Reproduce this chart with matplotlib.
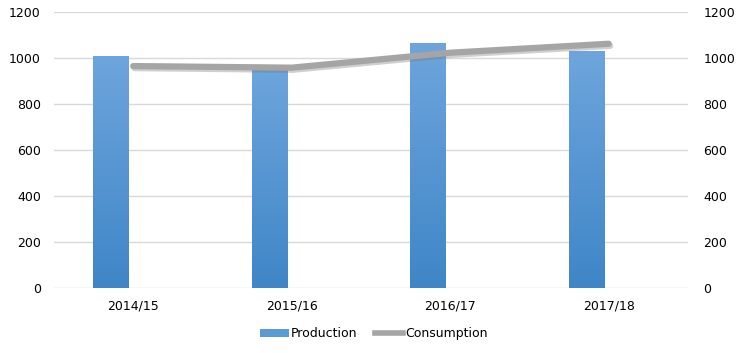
import numpy as np
import matplotlib
matplotlib.use("Agg")
import matplotlib.pyplot as plt
import matplotlib.patheffects as pe
from matplotlib.colors import LinearSegmentedColormap
from matplotlib.patches import Patch
from matplotlib.lines import Line2D

seasons = ["2014/15", "2015/16", "2016/17", "2017/18"]
production = [1010, 960, 1065, 1030]
consumption = [965, 958, 1023, 1062]
ticks = [0, 200, 400, 600, 800, 1000, 1200]

plt.rcParams['font.family'] = ['DejaVu Sans']

fig = plt.figure(figsize=(7.39, 3.53), dpi=100)
ax = fig.add_axes([0.073, 0.184, 0.858, 0.782])
ax2 = ax.twinx()

x = np.arange(len(seasons))
bar_off = -0.139
bar_w = 0.227

# gradient bars (lighter at top)
cmap = LinearSegmentedColormap.from_list("blu", ["#3F86C7", "#6EA5DD"])
bars = ax.bar(x + bar_off, production, width=bar_w, color="#5B9BD5", zorder=2)
grad = np.linspace(0, 1, 256).reshape(-1, 1)
for b in bars:
    x0, w, h = b.get_x(), b.get_width(), b.get_height()
    im = ax.imshow(grad, extent=[x0, x0 + w, 0, h], origin="lower",
                   aspect="auto", cmap=cmap, zorder=3)
    im.set_clip_path(b)

ax.set_xlim(-0.5, len(seasons) - 0.5)
ax.set_ylim(0, 1200)
ax.set_yticks(ticks)
ax.set_xticks(x)
ax.set_xticklabels(seasons)
ax.grid(axis="y", color="#D9D9D9", linewidth=1, zorder=0)
ax.set_axisbelow(True)

ax2.plot(x, consumption, color="#A5A5A5", linewidth=4.5, solid_capstyle="round",
         path_effects=[pe.SimpleLineShadow(offset=(1, -1.5), shadow_color="#777777", alpha=0.35),
                       pe.Normal()], zorder=4)
ax2.set_ylim(0, 1200)
ax2.set_yticks(ticks)

for a in (ax, ax2):
    for s in a.spines.values():
        s.set_visible(False)
    a.tick_params(length=0, labelsize=9, colors="#000000")
ax.tick_params(axis="y", pad=9.5)
ax2.tick_params(axis="y", pad=11)
ax.tick_params(axis="x", pad=8)

handles = [Patch(facecolor="#5B9BD5", label="Production"),
           Line2D([], [], color="#A5A5A5", linewidth=4, label="Consumption")]
fig.legend(handles=handles, loc="center", bbox_to_anchor=(0.506, 0.054), ncol=2,
           frameon=False, fontsize=9, handlelength=2.3, handleheight=0.6,
           handletextpad=0.15, columnspacing=1.4)

fig.savefig("out.png", dpi=100)
